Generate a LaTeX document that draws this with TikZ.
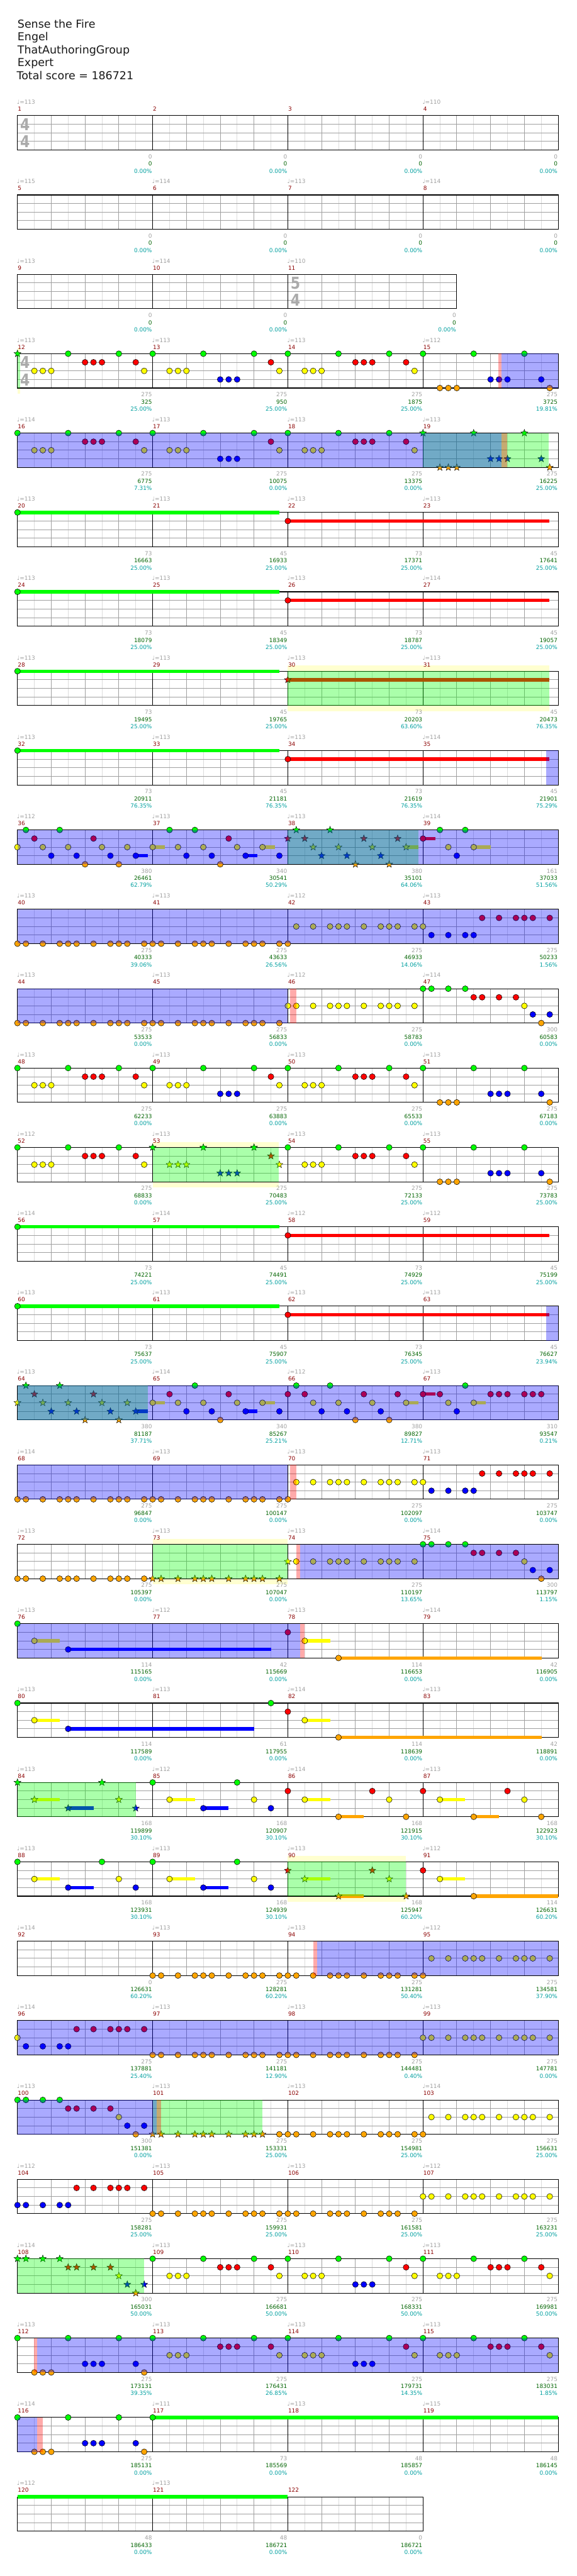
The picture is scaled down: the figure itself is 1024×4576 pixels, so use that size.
\documentclass[tikz,border=0pt]{standalone}
\usepackage{fontspec}
\setmainfont{DejaVu Sans}
\usetikzlibrary{shapes.geometric}
\definecolor{cG}{HTML}{00FF00}
\definecolor{cR}{HTML}{FF0000}
\definecolor{cY}{HTML}{FFFF00}
\definecolor{cB}{HTML}{0000FF}
\definecolor{cO}{HTML}{FFA500}
\definecolor{cYl}{HTML}{FFFFD0}
\definecolor{cLight}{HTML}{DCDCDC}
\definecolor{cBeat}{HTML}{A0A0A0}
\definecolor{cMn}{HTML}{8B0000}
\definecolor{cGrey}{HTML}{A0A0A0}
\definecolor{cScore}{HTML}{006400}
\definecolor{cPct}{HTML}{00A0A0}
\definecolor{cTS}{HTML}{ABABAB}
\tikzset{
  mnum/.style={font=\fontsize{10}{12}\selectfont, text=cMn, inner sep=0pt, anchor=base west},
  tmp/.style={font=\fontsize{10}{12}\selectfont, text=cGrey, inner sep=0pt, anchor=base west},
  sca/.style={font=\fontsize{10}{12}\selectfont, text=cGrey, inner sep=0pt, anchor=base east},
  scb/.style={font=\fontsize{10}{12}\selectfont, text=cScore, inner sep=0pt, anchor=base east},
  scc/.style={font=\fontsize{10}{12}\selectfont, text=cPct, inner sep=0pt, anchor=base east},
  ttl/.style={font=\fontsize{19.5}{23}\selectfont, text=black!90, inner sep=0pt, anchor=base west},
  tsig/.style={font=\fontsize{29}{29}\selectfont\bfseries, text=cTS, inner sep=0pt, xscale=0.85},
  notehead/.style={draw=black, line width=0.6pt},
  starnote/.style={star, star points=5, star point ratio=2.4, minimum size=13pt, inner sep=0pt, draw=black, line width=0.5pt},
  gridlight/.style={draw=cLight, line width=1pt},
  gridbeat/.style={draw=cBeat, line width=1pt},
}
\newcommand\RY{0}
\newcommand\rownum{0}
\newcommand\SetRow[1]{\pgfmathsetmacro\RY{205.3+141*(#1-1)}\xdef\rownum{#1}}
% staff of width #1
\newcommand\Staff[1]{%
  \fill[white] (31,\RY) rectangle ({31+#1},{\RY+61});
  \pgfmathtruncatemacro\SNa{#1/60-1}%
  \pgfmathtruncatemacro\SNb{#1/60-2}%
  \foreach \k in {0,...,\SNa} \draw[gridlight] ({61+60*\k},\RY) -- ++(0,61);
  \foreach \k in {0,...,\SNb} \draw[gridbeat] ({91+60*\k},\RY) -- ++(0,61);
  \foreach \j in {1,2,3} \draw[gridbeat] (31,{\RY+15.25*\j}) -- ++(#1,0);
  \draw[black, line width=1.2pt] (31,\RY) rectangle ({31+#1},{\RY+61});
}
% measure: [width] k num tempo grey score pct
\newcommand\Ms[7][240]{%
  \pgfmathsetmacro\MXa{31+240*#2}%
  \pgfmathsetmacro\MXe{\MXa+#1-1}%
  \draw[black, line width=1pt] (\MXa,\RY) -- ++(0,61);
  \node[mnum] (mn#3) at ({\MXa+0.5},{\RY-8}) {#3};
  \if\relax\detokenize{#4}\relax\else\node[tmp] (tp#3) at ({\MXa-1},{\RY-20.3}) {♩=#4};\fi
  \node[sca] (sa#3) at (\MXe,{\RY+76.4}) {#5};
  \node[scb] (sb#3) at (\MXe,{\RY+89.4}) {#6};
  \node[scc] (sc#3) at (\MXe,{\RY+102}) {#7\%};
}
\newcommand\TS[3]{%
  \node[tsig] (tsa\rownum) at ({#1+13.5},{\RY+15.5}) {#2};
  \node[tsig] (tsb\rownum) at ({#1+13.5},{\RY+46}) {#3};
}
\newcommand\Nt[3]{\foreach \p in {#1} {\filldraw[notehead, fill=#3] ({31+15*\p},{\RY+15.25*#2}) circle (5.2pt);}}
\newcommand\St[3]{\foreach \p in {#1} {\node[starnote, fill=#3] (s\rownum-\p-#2) at ({31+15*\p},{\RY+15.25*#2}) {};}}
\newcommand\Su[4]{\fill[#4] ({31+15*#1},{\RY+15.25*#2-3}) rectangle (#3,{\RY+15.25*#2+3});}
\newcommand\Ov[3]{\fill[#3, opacity=0.333] (#1,\RY) rectangle (#2,{\RY+61});}
\newcommand\Yl[2]{\fill[cYl] (#1,{\RY-10}) rectangle (#2,{\RY+71});}
\begin{document}
\begin{tikzpicture}[x=1pt,y=-1pt]
\useasboundingbox[fill=white] (0,0) rectangle (1024,4576);
\node[ttl] (title) at (31,49.3) {Sense the Fire};
\node[ttl] (artist) at (31,72.3) {Engel};
\node[ttl] (charter) at (31,95.3) {ThatAuthoringGroup};
\node[ttl] (diff) at (31,118.3) {Expert};
\node[ttl] (total) at (29.5,141.7) {Total score = 186721};
% ---- row 1
\SetRow{1}\Staff{960}
\Ms{0}{1}{113}{0}{0}{0.00}\Ms{1}{2}{}{0}{0}{0.00}\Ms{2}{3}{}{0}{0}{0.00}\Ms{3}{4}{110}{0}{0}{0.00}
\TS{31}{4}{4}
% ---- row 2
\SetRow{2}\Staff{960}
\Ms{0}{5}{115}{0}{0}{0.00}\Ms{1}{6}{114}{0}{0}{0.00}\Ms{2}{7}{113}{0}{0}{0.00}\Ms{3}{8}{114}{0}{0}{0.00}
% ---- row 3
\SetRow{3}\Staff{780}
\Ms{0}{9}{113}{0}{0}{0.00}\Ms{1}{10}{114}{0}{0}{0.00}\Ms[300]{2}{11}{110}{0}{0}{0.00}
\TS{511}{5}{4}
% ---- row 4
\SetRow{4}\Yl{31}{36}\Staff{960}
\Ms{0}{12}{113}{275}{325}{25.00}\Ms{1}{13}{113}{275}{950}{25.00}\Ms{2}{14}{113}{275}{1875}{25.00}\Ms{3}{15}{112}{275}{3725}{19.81}
\TS{31}{4}{4}
\Nt{6,12,16,22,28,32,38,44,48,54,60}{0}{cG}\St{0}{0}{cG}
\Nt{8,9,10,14,30,40,41,42,46}{1}{cR}
\Nt{2,3,4,15,18,19,20,31,34,35,36,47}{2}{cY}
\Nt{24,25,26,56,57,58,62}{3}{cB}
\Nt{50,51,52,63}{4}{cO}
\Ov{31}{36}{cG}\Ov{885}{890}{cR}\Ov{890}{991}{cB}
% ---- row 5
\SetRow{5}\Staff{960}
\Ms{0}{16}{114}{275}{6775}{7.31}\Ms{1}{17}{113}{275}{10075}{0.00}\Ms{2}{18}{113}{275}{13375}{0.00}\Ms{3}{19}{113}{275}{16225}{25.00}
\Nt{0,6,12,16,22,28,32,38,44}{0}{cG}\St{48,54,60}{0}{cG}
\Nt{8,9,10,14,30,40,41,42,46}{1}{cR}
\Nt{2,3,4,15,18,19,20,31,34,35,36,47}{2}{cY}
\Nt{24,25,26}{3}{cB}\St{56,57,58,62}{3}{cB}
\St{50,51,52,63}{4}{cO}
\Ov{751}{974}{cG}\Ov{890}{900}{cR}\Ov{31}{890}{cB}
% ---- row 6
\SetRow{6}\Staff{960}
\Ms{0}{20}{113}{73}{16663}{25.00}\Ms{1}{21}{113}{45}{16933}{25.00}\Ms{2}{22}{113}{73}{17371}{25.00}\Ms{3}{23}{113}{45}{17641}{25.00}
\Su{0}{0}{496}{cG}\Nt{0}{0}{cG}\Su{32}{1}{975}{cR}\Nt{32}{1}{cR}
% ---- row 7
\SetRow{7}\Staff{960}
\Ms{0}{24}{113}{73}{18079}{25.00}\Ms{1}{25}{113}{45}{18349}{25.00}\Ms{2}{26}{113}{73}{18787}{25.00}\Ms{3}{27}{114}{45}{19057}{25.00}
\Su{0}{0}{496}{cG}\Nt{0}{0}{cG}\Su{32}{1}{975}{cR}\Nt{32}{1}{cR}
% ---- row 8
\SetRow{8}\Yl{511}{975}\Staff{960}
\Ms{0}{28}{113}{73}{19495}{25.00}\Ms{1}{29}{113}{45}{19765}{25.00}\Ms{2}{30}{113}{73}{20203}{63.60}\Ms{3}{31}{113}{45}{20473}{76.35}
\Su{0}{0}{496}{cG}\Nt{0}{0}{cG}\Su{32}{1}{975}{cR}\St{32}{1}{cR}
\Ov{511}{975}{cG}
% ---- row 9
\SetRow{9}\Staff{960}
\Ms{0}{32}{113}{73}{20911}{76.35}\Ms{1}{33}{113}{45}{21181}{76.35}\Ms{2}{34}{113}{73}{21619}{76.35}\Ms{3}{35}{114}{45}{21901}{75.29}
\Su{0}{0}{496}{cG}\Nt{0}{0}{cG}\Su{32}{1}{975}{cR}\Nt{32}{1}{cR}
\Ov{970}{991}{cB}
% ---- row 10
\SetRow{10}\Staff{960}
\Ms{0}{36}{112}{380}{26461}{62.79}\Ms{1}{37}{113}{340}{30541}{50.29}\Ms{2}{38}{113}{380}{35101}{64.06}\Ms{3}{39}{114}{161}{37033}{51.56}
\Su{16}{2}{292.6}{cY}\Su{29}{2}{488}{cY}\Su{46}{2}{742.7}{cY}\Su{54}{2}{871}{cY}
\Su{14}{3}{262.6}{cB}\Su{27}{3}{457}{cB}\Su{48}{1}{772.7}{cR}
\Nt{1,5,18,21,50,53}{0}{cG}\St{33,37}{0}{cG}
\Nt{2,9,25,48}{1}{cR}\St{32,34,41,45}{1}{cR}
\Nt{0,3,6,10,13,16,19,22,26,29,51,54}{2}{cY}\St{35,38,42,46}{2}{cY}
\Nt{4,7,11,14,20,23,27,31,52}{3}{cB}\St{36,39,43}{3}{cB}
\Nt{8,12,24}{4}{cO}\St{40,44}{4}{cO}
\Ov{511}{743}{cG}\Ov{31}{991}{cB}
% ---- row 11
\SetRow{11}\Staff{960}
\Ms{0}{40}{113}{275}{40333}{39.06}\Ms{1}{41}{113}{275}{43633}{26.56}\Ms{2}{42}{112}{275}{46933}{14.06}\Ms{3}{43}{113}{275}{50233}{1.56}
\Nt{0,1,3,5,6,7,9,11,12,13,15,16,17,19,21,22,23,25,27,28,29,31,32}{4}{cO}
\Nt{33,35,37,38,39,41,43,44,45,47,48}{2}{cY}
\Nt{49,51,53,54}{3}{cB}
\Nt{55,57,59,60,61,63}{1}{cR}
\Ov{31}{991}{cB}
% ---- row 12
\SetRow{12}\Staff{960}
\Ms{0}{44}{113}{275}{53533}{0.00}\Ms{1}{45}{113}{275}{56833}{0.00}\Ms{2}{46}{112}{275}{58783}{0.00}\Ms{3}{47}{114}{300}{60583}{0.00}
\Nt{0,1,3,5,6,7,9,11,12,13,15,16,17,19,21,22,23,25,27,28,29,31,62}{4}{cO}
\Nt{32,33,35,37,38,39,41,43,44,45,47,60}{2}{cY}
\Nt{48,49,51,53}{0}{cG}
\Nt{54,55,57,59}{1}{cR}
\Nt{61,63}{3}{cB}
\Ov{31}{511}{cB}\Ov{515}{526}{cR}
% ---- row 13
\SetRow{13}\Staff{960}
\Ms{0}{48}{113}{275}{62233}{0.00}\Ms{1}{49}{113}{275}{63883}{0.00}\Ms{2}{50}{113}{275}{65533}{0.00}\Ms{3}{51}{113}{275}{67183}{0.00}
\Nt{0,6,12,16,22,28,32,38,44,48,54,60}{0}{cG}
\Nt{8,9,10,14,30,40,41,42,46}{1}{cR}
\Nt{2,3,4,15,18,19,20,31,34,35,36,47}{2}{cY}
\Nt{24,25,26,56,57,58,62}{3}{cB}
\Nt{50,51,52,63}{4}{cO}
% ---- row 14
\SetRow{14}\Yl{271}{495}\Staff{960}
\Ms{0}{52}{112}{275}{68833}{0.00}\Ms{1}{53}{113}{275}{70483}{25.00}\Ms{2}{54}{113}{275}{72133}{25.00}\Ms{3}{55}{113}{275}{73783}{25.00}
\Nt{0,6,12,32,38,44,48,54,60}{0}{cG}\St{16,22,28}{0}{cG}
\Nt{8,9,10,14,40,41,42,46}{1}{cR}\St{30}{1}{cR}
\Nt{2,3,4,15,34,35,36,47}{2}{cY}\St{18,19,20,31}{2}{cY}
\Nt{56,57,58,62}{3}{cB}\St{24,25,26}{3}{cB}
\Nt{50,51,52,63}{4}{cO}
\Ov{271}{495}{cG}
% ---- row 15
\SetRow{15}\Staff{960}
\Ms{0}{56}{114}{73}{74221}{25.00}\Ms{1}{57}{114}{45}{74491}{25.00}\Ms{2}{58}{112}{73}{74929}{25.00}\Ms{3}{59}{112}{45}{75199}{25.00}
\Su{0}{0}{496}{cG}\Nt{0}{0}{cG}\Su{32}{1}{975}{cR}\Nt{32}{1}{cR}
% ---- row 16
\SetRow{16}\Staff{960}
\Ms{0}{60}{113}{73}{75637}{25.00}\Ms{1}{61}{113}{45}{75907}{25.00}\Ms{2}{62}{113}{73}{76345}{25.00}\Ms{3}{63}{113}{45}{76627}{23.94}
\Su{0}{0}{496}{cG}\Nt{0}{0}{cG}\Su{32}{1}{975}{cR}\Nt{32}{1}{cR}
\Ov{970}{991}{cB}
% ---- row 17
\SetRow{17}\Staff{960}
\Ms{0}{64}{113}{380}{81187}{37.71}\Ms{1}{65}{114}{340}{85267}{25.21}\Ms{2}{66}{112}{380}{89827}{12.71}\Ms{3}{67}{113}{310}{93547}{0.21}
\Su{14}{3}{262.6}{cB}\Su{16}{2}{292.6}{cY}\Su{27}{3}{457}{cB}\Su{29}{2}{488}{cY}
\Su{46}{2}{742.7}{cY}\Su{48}{1}{772.7}{cR}\Su{54}{2}{862}{cY}
\St{1,5}{0}{cG}\Nt{21,33,37,53}{0}{cG}
\St{2,9}{1}{cR}\Nt{18,25,32,34,41,45,48,50,56,57,58,60,61,62}{1}{cR}
\St{0,3,6,10,13}{2}{cY}\Nt{16,19,22,26,29,35,38,42,46,51,54}{2}{cY}
\St{4,7,11,14}{3}{cB}\Nt{20,23,27,31,36,39,43,52}{3}{cB}
\St{8,12}{4}{cO}\Nt{24,40,44}{4}{cO}
\Ov{31}{262.6}{cG}\Ov{31}{991}{cB}
% ---- row 18
\SetRow{18}\Staff{960}
\Ms{0}{68}{114}{275}{96847}{0.00}\Ms{1}{69}{113}{275}{100147}{0.00}\Ms{2}{70}{113}{275}{102097}{0.00}\Ms{3}{71}{113}{275}{103747}{0.00}
\Nt{0,1,3,5,6,7,9,11,12,13,15,16,17,19,21,22,23,25,27,28,29,31,32}{4}{cO}
\Nt{33,35,37,38,39,41,43,44,45,47,48}{2}{cY}
\Nt{49,51,53,54}{3}{cB}
\Nt{55,57,59,60,61,63}{1}{cR}
\Ov{31}{511}{cB}\Ov{515}{526}{cR}
% ---- row 19
\SetRow{19}\Yl{271}{511}\Staff{960}
\Ms{0}{72}{113}{275}{105397}{0.00}\Ms{1}{73}{113}{275}{107047}{0.00}\Ms{2}{74}{113}{275}{110197}{13.65}\Ms{3}{75}{114}{300}{113797}{1.15}
\Nt{0,1,3,5,6,7,9,11,12,13,15,62}{4}{cO}\St{16,17,19,21,22,23,25,27,28,29,31}{4}{cO}
\St{32}{2}{cY}\Nt{33,35,37,38,39,41,43,44,45,47,60}{2}{cY}
\Nt{48,49,51,53}{0}{cG}
\Nt{54,55,57,59}{1}{cR}
\Nt{61,63}{3}{cB}
\Ov{271}{511}{cG}\Ov{526}{533}{cR}\Ov{533}{991}{cB}
% ---- row 20
\SetRow{20}\Staff{960}
\Ms{0}{76}{113}{114}{115165}{0.00}\Ms{1}{77}{112}{42}{115669}{0.00}\Ms{2}{78}{113}{114}{116653}{0.00}\Ms{3}{79}{114}{42}{116905}{0.00}
\Su{2}{2}{105.8}{cY}\Su{6}{3}{481.4}{cB}\Su{34}{2}{586}{cY}\Su{38}{4}{961.5}{cO}
\Nt{0}{0}{cG}\Nt{2,34}{2}{cY}\Nt{6}{3}{cB}\Nt{32}{1}{cR}\Nt{38}{4}{cO}
\Ov{31}{533}{cB}\Ov{533}{541}{cR}
% ---- row 21
\SetRow{21}\Staff{960}
\Ms{0}{80}{113}{114}{117589}{0.00}\Ms{1}{81}{113}{61}{117955}{0.00}\Ms{2}{82}{114}{114}{118639}{0.00}\Ms{3}{83}{113}{42}{118891}{0.00}
\Su{2}{2}{105.8}{cY}\Su{6}{3}{451.3}{cB}\Su{34}{2}{586}{cY}\Su{38}{4}{961.5}{cO}
\Nt{0,30}{0}{cG}\Nt{2,34}{2}{cY}\Nt{6}{3}{cB}\Nt{32}{1}{cR}\Nt{38}{4}{cO}
% ---- row 22
\SetRow{22}\Staff{960}
\Ms{0}{84}{113}{168}{119899}{30.10}\Ms{1}{85}{112}{168}{120907}{30.10}\Ms{2}{86}{114}{168}{121915}{30.10}\Ms{3}{87}{113}{168}{122923}{30.10}
\Su{2}{2}{105.8}{cY}\Su{6}{3}{166}{cB}\Su{18}{2}{346}{cY}\Su{22}{3}{406}{cB}
\Su{34}{2}{586}{cY}\Su{38}{4}{646}{cO}\Su{50}{2}{826}{cY}\Su{54}{4}{886}{cO}
\St{0,10}{0}{cG}\St{2,12}{2}{cY}\St{6,14}{3}{cB}
\Nt{16,26}{0}{cG}\Nt{18,28,34,44,50,60}{2}{cY}\Nt{22,30}{3}{cB}\Nt{32,42,48,58}{1}{cR}\Nt{38,46,54,62}{4}{cO}
\Ov{31}{241.7}{cG}
% ---- row 23
\SetRow{23}\Yl{511}{721}\Staff{960}
\Ms{0}{88}{113}{168}{123931}{30.10}\Ms{1}{89}{113}{168}{124939}{30.10}\Ms{2}{90}{113}{168}{125947}{60.20}\Ms{3}{91}{112}{114}{126631}{60.20}
\Su{2}{2}{105.8}{cY}\Su{6}{3}{166}{cB}\Su{18}{2}{346}{cY}\Su{22}{3}{406}{cB}
\Su{34}{2}{586}{cY}\Su{38}{4}{646}{cO}\Su{50}{2}{826}{cY}\Su{54}{4}{991}{cO}
\Nt{0,10,16,26}{0}{cG}\Nt{2,12,18,28,50}{2}{cY}\Nt{6,14,22,30}{3}{cB}
\St{32,42}{1}{cR}\St{34,44}{2}{cY}\St{38,46}{4}{cO}\Nt{48}{1}{cR}\Nt{54}{4}{cO}
\Ov{511}{721}{cG}
% ---- row 24
\SetRow{24}\Staff{960}
\Ms{0}{92}{114}{0}{126631}{60.20}\Ms{1}{93}{113}{275}{128281}{60.20}\Ms{2}{94}{113}{275}{131281}{50.40}\Ms{3}{95}{112}{275}{134581}{37.90}
\Nt{16,17,19,21,22,23,25,27,28,29,31,32,33,35,37,38,39,41,43,44,45,47,48}{4}{cO}
\Nt{49,51,53,54,55,57,59,60,61,63}{2}{cY}
\Ov{556}{563}{cR}\Ov{563}{991}{cB}
% ---- row 25
\SetRow{25}\Staff{960}
\Ms{0}{96}{114}{275}{137881}{25.40}\Ms{1}{97}{113}{275}{141181}{12.90}\Ms{2}{98}{113}{275}{144481}{0.40}\Ms{3}{99}{113}{275}{147781}{0.00}
\Nt{0,48,49,51,53,54,55,57,59,60,61,63}{2}{cY}\Nt{1,3,5,6}{3}{cB}\Nt{7,9,11,12,13,15}{1}{cR}
\Nt{16,17,19,21,22,23,25,27,28,29,31,32,33,35,37,38,39,41,43,44,45,47}{4}{cO}
\Ov{31}{991}{cB}
% ---- row 26
\SetRow{26}\Staff{960}
\Ms{0}{100}{113}{300}{151381}{0.00}\Ms{1}{101}{113}{275}{153331}{25.00}\Ms{2}{102}{113}{275}{154981}{25.00}\Ms{3}{103}{114}{275}{156631}{25.00}
\Nt{0,1,3,5}{0}{cG}\Nt{6,7,9,11}{1}{cR}\Nt{12}{2}{cY}\Nt{13,15}{3}{cB}\Nt{14}{4}{cO}
\St{16,17,19,21,22,23,25,27,28,29}{4}{cO}
\Nt{31,32,33,35,37,38,39,41,43,44,45,47,48}{4}{cO}
\Nt{49,51,53,54,55,57,59,60,61,63}{2}{cY}
\Ov{271}{466}{cG}\Ov{278}{286}{cR}\Ov{31}{278}{cB}
% ---- row 27
\SetRow{27}\Staff{960}
\Ms{0}{104}{112}{275}{158281}{25.00}\Ms{1}{105}{113}{275}{159931}{25.00}\Ms{2}{106}{113}{275}{161581}{25.00}\Ms{3}{107}{112}{275}{163231}{25.00}
\Nt{0,1,3,5,6}{3}{cB}\Nt{7,9,11,12,13,15}{1}{cR}
\Nt{16,17,19,21,22,23,25,27,28,29,31,32,33,35,37,38,39,41,43,44,45,47}{4}{cO}
\Nt{48,49,51,53,54,55,57,59,60,61,63}{2}{cY}
% ---- row 28
\SetRow{28}\Staff{960}
\Ms{0}{108}{114}{300}{165031}{50.00}\Ms{1}{109}{113}{275}{166681}{50.00}\Ms{2}{110}{113}{275}{168331}{50.00}\Ms{3}{111}{113}{275}{169981}{50.00}
\St{0,1,3,5}{0}{cG}\St{6,7,9,11}{1}{cR}\St{12}{2}{cY}\St{13,15}{3}{cB}\St{14}{4}{cO}
\Nt{16,22,28,32,38,44,48,54,60}{0}{cG}\Nt{18,19,20,31,34,35,36,47,50,51,52,63}{2}{cY}
\Nt{24,25,26,30,46,56,57,58,62}{1}{cR}\Nt{40,41,42}{3}{cB}
\Ov{31}{256}{cG}
% ---- row 29
\SetRow{29}\Staff{960}
\Ms{0}{112}{113}{275}{173131}{39.35}\Ms{1}{113}{113}{275}{176431}{26.85}\Ms{2}{114}{113}{275}{179731}{14.35}\Ms{3}{115}{113}{275}{183031}{1.85}
\Nt{0,6,12,16,22,28,32,38,44,48,54,60}{0}{cG}\Nt{2,3,4,15}{4}{cO}\Nt{8,9,10,14,40,41,42}{3}{cB}
\Nt{18,19,20,31,34,35,36,47,50,51,52,63}{2}{cY}\Nt{24,25,26,30,46,56,57,58,62}{1}{cR}
\Ov{60.7}{66}{cR}\Ov{66}{991}{cB}
% ---- row 30
\SetRow{30}\Staff{960}
\Ms{0}{116}{114}{275}{185131}{0.00}\Ms{1}{117}{111}{73}{185569}{0.00}\Ms{2}{118}{113}{48}{185857}{0.00}\Ms{3}{119}{115}{48}{186145}{0.00}
\Su{16}{0}{991}{cG}
\Nt{0,6,12,16}{0}{cG}\Nt{2,3,4,15}{4}{cO}\Nt{8,9,10,14}{3}{cB}
\Ov{31}{66}{cB}\Ov{66}{75.8}{cR}
% ---- row 31
\SetRow{31}\Staff{720}
\Ms{0}{120}{112}{48}{186433}{0.00}\Ms{1}{121}{113}{48}{186721}{0.00}\Ms{2}{122}{}{0}{186721}{0.00}
\fill[cG] (31,{\RY-3}) rectangle (511,{\RY+3});
\end{tikzpicture}
\end{document}
